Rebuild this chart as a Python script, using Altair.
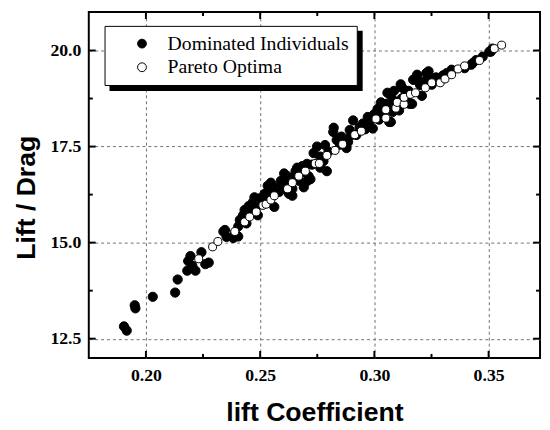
import altair as alt
import pandas as pd

# Dominated individuals (filled)
dom_x = [0.1904, 0.1916, 0.1951, 0.1954, 0.2030, 0.2128, 0.2139,
         0.2181, 0.2185, 0.2195, 0.2203, 0.2217, 0.2243, 0.2260, 0.2275,
         0.2346, 0.2353, 0.2339, 0.2382, 0.2389, 0.2404, 0.2404, 0.2411, 0.2425, 0.2440,
         0.2461, 0.2468, 0.2475, 0.2490, 0.2504, 0.2519, 0.2533, 0.2547, 0.2562, 0.2576,
         0.2591, 0.2619, 0.2626, 0.2641, 0.2655, 0.2669, 0.2684, 0.2691, 0.2712, 0.2727,
         0.2763, 0.2777, 0.2792, 0.2720, 0.2734, 0.2749, 0.2763, 0.2784, 0.2799, 0.2820,
         0.2822, 0.2835, 0.2856, 0.2878, 0.2892, 0.2907, 0.2921, 0.2950, 0.2971, 0.2993,
         0.3014, 0.3036, 0.3050, 0.3065, 0.3086, 0.3108, 0.3144, 0.3165,
         0.3122, 0.3137, 0.3172, 0.3187, 0.3208, 0.3237, 0.3251, 0.3288, 0.3316, 0.3338,
         0.3395, 0.3424, 0.3445, 0.3474, 0.3503, 0.3517, 0.3155, 0.3130, 0.3227, 0.3187, 0.3170,
         0.2432, 0.2450, 0.2483, 0.2497, 0.2512, 0.2540, 0.2555, 0.2583, 0.2598, 0.2605,
         0.2612, 0.2630, 0.2648, 0.2662, 0.2676, 0.2705, 0.2705, 0.2641, 0.2900, 0.3072,
         0.2850, 0.2870, 0.2885, 0.2935, 0.2960, 0.2980, 0.3000, 0.3020, 0.3040, 0.3060,
         0.3080, 0.3100, 0.3120, 0.3150, 0.3200, 0.3220, 0.3240, 0.3270, 0.3300,
         0.3115, 0.3086, 0.3273, 0.3057, 0.3072, 0.3029, 0.3430, 0.3510]
dom_y = [12.82, 12.71, 13.37, 13.29, 13.59, 13.70, 14.04,
         14.27, 14.52, 14.65, 14.40, 14.27, 14.75, 14.44, 14.48,
         15.33, 15.15, 15.29, 15.12, 15.25, 15.16, 15.42, 15.59, 15.71, 15.50,
         15.80, 16.05, 16.18, 15.71, 16.01, 16.27, 16.48, 16.56, 15.93, 16.44,
         16.61, 16.73, 16.27, 16.22, 16.86, 16.61, 16.99, 16.44, 16.73, 17.03,
         16.95, 17.12, 16.86, 16.65, 17.33, 17.50, 17.24, 17.54, 17.37, 17.88,
         17.99, 17.67, 17.76, 17.46, 17.93, 18.18, 17.80, 18.10, 18.27, 17.97,
         18.48, 18.27, 18.61, 18.14, 18.69, 18.44, 18.78, 18.61,
         19.03, 18.86, 19.24, 19.29, 18.82, 19.46, 19.11, 19.24, 19.41, 19.50,
         19.54, 19.63, 19.75, 19.84, 19.97, 20.05, 18.61, 18.65, 19.41, 19.37, 19.24,
         15.85, 15.95, 15.95, 16.15, 16.12, 16.35, 16.25, 16.32, 16.50, 16.80,
         16.40, 16.60, 16.70, 16.95, 16.80, 16.60, 17.05, 16.40, 17.80, 18.14,
         17.55, 17.70, 17.62, 18.00, 17.95, 18.15, 18.35, 18.20, 18.40, 18.50,
         18.40, 18.55, 18.75, 18.95, 19.10, 19.20, 19.30, 19.30, 19.35,
         19.12, 18.95, 19.24, 18.90, 18.82, 18.65, 19.67, 19.97]

# Pareto optima (open)
par_x = [0.2231, 0.2292, 0.2315, 0.2389, 0.2432, 0.2454, 0.2483, 0.2512, 0.2526, 0.2547,
         0.2562, 0.2620, 0.2641, 0.2669, 0.2698, 0.2749, 0.2741, 0.2759, 0.2792, 0.2828,
         0.2861, 0.2914, 0.2943, 0.3007, 0.3050, 0.3050, 0.3094, 0.3100, 0.3130, 0.3130,
         0.3158, 0.3180, 0.3223, 0.3251, 0.3288, 0.3309, 0.3338, 0.3366, 0.3395, 0.3460,
         0.3525, 0.3557]
par_y = [14.58, 14.89, 15.03, 15.29, 15.54, 15.67, 15.80, 15.97, 16.00, 16.11,
         16.22, 16.40, 16.56, 16.73, 16.86, 17.07, 17.06, 17.06, 17.27, 17.40,
         17.56, 17.81, 17.90, 18.22, 18.24, 18.46, 18.50, 18.65, 18.60, 18.78,
         18.86, 18.90, 19.03, 19.16, 19.16, 19.26, 19.37, 19.52, 19.60, 19.74,
         20.05, 20.14]

groups = ["Dominated Individuals", "Pareto Optima"]

x_major = [0.20, 0.25, 0.30, 0.35]
x_minor = [0.225, 0.275, 0.325]
y_major = [12.5, 15.0, 17.5, 20.0]
y_minor = [13.75, 16.25, 18.75]

W, H = 458, 351
MAJ, MIN = 7, 4

points = pd.DataFrame({
    "x": dom_x + par_x,
    "y": dom_y + par_y,
    "group": [groups[0]] * len(dom_x) + [groups[1]] * len(par_x),
})

xscale = alt.Scale(domain=[0.175, 0.3725], nice=False, zero=False)
yscale = alt.Scale(domain=[12, 21], nice=False, zero=False)

xaxis = alt.Axis(title="lift Coefficient", values=x_major, format=".2f",
                 labelPadding=9, titlePadding=16)
yaxis = alt.Axis(title="Lift / Drag", values=y_major, format=".1f",
                 labelPadding=8, titlePadding=10, titleY=188)

pts = alt.Chart(points).mark_circle(
    stroke="black", strokeWidth=1, opacity=1
).encode(
    x=alt.X("x:Q", scale=xscale, axis=xaxis),
    y=alt.Y("y:Q", scale=yscale, axis=yaxis),
    fill=alt.Fill("group:N", scale=alt.Scale(domain=groups, range=["black", "white"]),
                  legend=alt.Legend(title=None, orient="none", legendX=16, legendY=14,
                                    strokeColor="black", fillColor="white",
                                    padding=8, rowPadding=4, symbolOffset=20,
                                    labelOffset=16, labelLimit=400,
                                    labelFont="Liberation Serif", labelFontSize=20,
                                    labelColor="black", symbolSize=80,
                                    symbolType="circle", symbolStrokeColor="black",
                                    symbolStrokeWidth=1)),
    size=alt.condition("datum.group == 'Pareto Optima'", alt.value(66), alt.value(88)),
    order=alt.Order("ord:Q"),
).transform_calculate(ord="datum.group == 'Pareto Optima' ? 1 : 0")

shadow = alt.Chart(pd.DataFrame({"k": [0]})).mark_rect(color="black").encode(
    x=alt.value(21), x2=alt.value(278), y=alt.value(19), y2=alt.value(80)
)


def xticks(vals, length):
    df = pd.DataFrame({"x": vals})
    b = alt.Chart(df).mark_rule(color="black", strokeWidth=2).encode(
        x=alt.X("x:Q", scale=xscale, axis=xaxis), y=alt.value(H), y2=alt.value(H - length))
    t = alt.Chart(df).mark_rule(color="black", strokeWidth=2).encode(
        x=alt.X("x:Q", scale=xscale, axis=xaxis), y=alt.value(0), y2=alt.value(length))
    return [b, t]


def yticks(vals, length):
    df = pd.DataFrame({"y": vals})
    l = alt.Chart(df).mark_rule(color="black", strokeWidth=2).encode(
        y=alt.Y("y:Q", scale=yscale, axis=yaxis), x=alt.value(0), x2=alt.value(length))
    r = alt.Chart(df).mark_rule(color="black", strokeWidth=2).encode(
        y=alt.Y("y:Q", scale=yscale, axis=yaxis), x=alt.value(W), x2=alt.value(W - length))
    return [l, r]


layers = [shadow, pts] + xticks(x_major, MAJ) + xticks(x_minor, MIN) + \
    yticks(y_major, MAJ) + yticks(y_minor, MIN)

chart = alt.layer(*layers).properties(
    width=W, height=H,
    autosize=alt.AutoSizeParams(type="none"),
    padding={"left": 82, "top": 1, "right": 2, "bottom": 68},
    background="white",
).configure_view(
    stroke="black", strokeWidth=2
).configure_axis(
    ticks=False, domain=False, grid=True,
    gridColor="#707070", gridDash=[3, 3], gridWidth=1,
    labelFont="Liberation Serif", labelFontWeight="bold", labelFontSize=18,
    labelColor="black",
    titleFont="Liberation Sans", titleFontWeight="bold", titleFontSize=27,
    titleColor="black",
)

chart.save("out.html", embed_options={"renderer": "svg", "actions": False})
